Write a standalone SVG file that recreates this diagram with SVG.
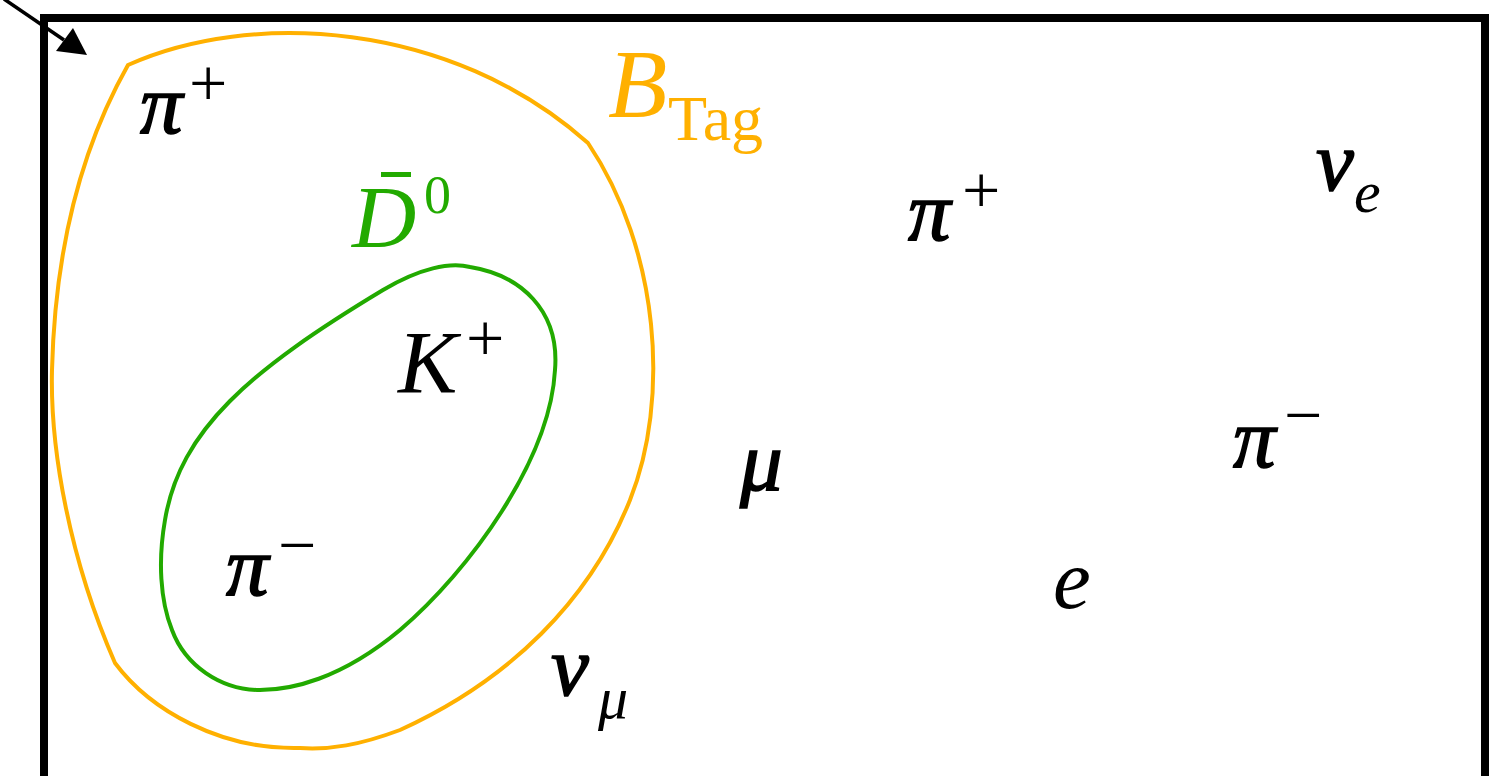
<svg xmlns="http://www.w3.org/2000/svg" width="1502" height="776" viewBox="0 0 1502 776">
<defs>
<style>
.t{font-family:"Liberation Serif","Times New Roman",serif;font-style:italic;fill:#000}
.g{stroke:#000;stroke-width:1.6}
.u{font-family:"Liberation Serif","Times New Roman",serif;font-style:normal}
.org{fill:#FFB000}
.grn{fill:#22AA00}
</style>
</defs>
<rect x="0" y="0" width="1502" height="776" fill="#fff"/>
<g id="frame">
<path d="M44,790 L44,18 L1485,18 L1485,790" fill="none" stroke="#000" stroke-width="8"/>
</g>
<g id="connectors">
<line x1="4" y1="-1" x2="64" y2="40" stroke="#000" stroke-width="3.5"/>
<polygon points="87,55 56,51 73,28" fill="#000"/>
</g>
<g id="btag">
<path d="M128,65 C250,10 450,20 588,143 C660,250 670,400 630,500 C590,600 510,680 400,730 C360,745 330,750 300,748 C220,750 150,710 115,663 C70,560 50,450 52,370 C55,250 80,150 128,65 Z" fill="none" stroke="#FFB000" stroke-width="4"/>
<text class="t org" x="608" y="117" font-size="97">B</text>
<text class="u org" x="668" y="140" font-size="64">Tag</text>
</g>
<g id="d0">
<path d="M383,290 C420,268 450,262 470,267 C520,275 560,310 555,370 C550,460 470,570 400,630 C340,680 290,690 260,690 C220,690 185,665 172,630 C160,600 158,560 165,520 C180,430 250,370 383,290 Z" fill="none" stroke="#22AA00" stroke-width="4"/>
<text class="t grn" x="352" y="247" font-size="89">D</text>
<rect x="381" y="172" width="30" height="5" fill="#22AA00"/>
<text class="u grn" x="424" y="213" font-size="54">0</text>
</g>
<g id="pip1"><text class="t g" x="140" y="133" font-size="85">π</text><text class="u" x="189" y="106" font-size="68">+</text></g>
<g id="kp"><text class="t" x="398" y="392" font-size="89">K</text><text class="u" x="466" y="361" font-size="68">+</text></g>
<g id="pim1"><text class="t g" x="226" y="595" font-size="85">π</text><text class="u" x="278" y="568" font-size="68">−</text></g>
<g id="pip2"><text class="t g" x="908" y="240" font-size="85">π</text><text class="u" x="962" y="213" font-size="68">+</text></g>
<g id="nue"><text class="t g" x="1316" y="190" font-size="85">ν</text><text class="t" x="1354" y="212" font-size="60">e</text></g>
<g id="pim2"><text class="t g" x="1233" y="467" font-size="85">π</text><text class="u" x="1284" y="438" font-size="68">−</text></g>
<g id="mu"><text class="t g" x="740" y="490" font-size="85">μ</text></g>
<g id="el"><text class="t" x="1053" y="608" font-size="85">e</text></g>
<g id="numu"><text class="t g" x="551" y="695" font-size="85">ν</text><text class="t" x="598" y="718" font-size="60">μ</text></g>
</svg>
